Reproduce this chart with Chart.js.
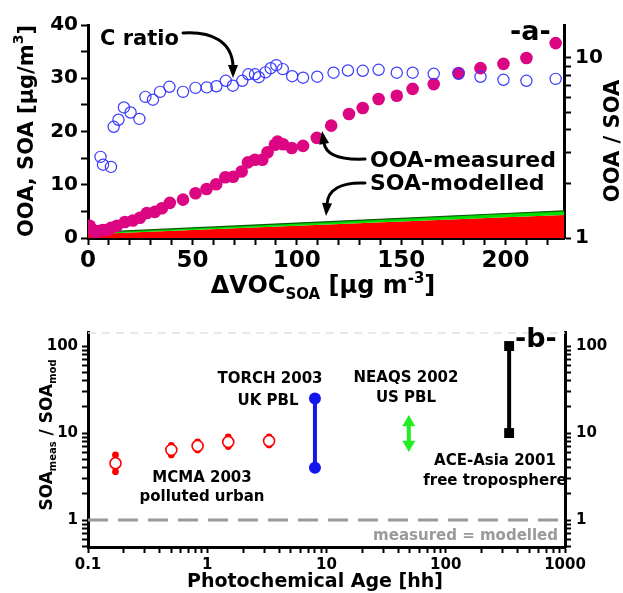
<!DOCTYPE html>
<html><head><meta charset="utf-8">
<script src="https://cdn.jsdelivr.net/npm/chart.js@4.4.1/dist/chart.umd.min.js"></script>
<style>
html,body{margin:0;padding:0;background:#fff;width:623px;height:593px;overflow:hidden}
#wrapA{position:absolute;left:0;top:0;width:623px;height:300px}
#wrapB{position:absolute;left:0;top:300px;width:623px;height:293px}
canvas{display:block}
</style></head><body>
<div id="wrapA"><canvas id="cA" width="623" height="300"></canvas></div>
<div id="wrapB"><canvas id="cB" width="623" height="293"></canvas></div>
<script>
// ---------- Panel a data ----------
const ooaX = [0.8, 2.0, 3.5, 5.0, 7.0, 9.0, 11.0, 13.9, 17.7, 21.5, 24.9, 28.2, 32.0, 35.4, 39.2, 45.5, 51.5, 56.8, 61.4, 65.8, 69.5, 73.6, 76.6, 80.0, 83.5, 86.0, 89.5, 90.8, 93.4, 97.6, 103.0, 109.6, 116.5, 125.0, 131.6, 139.2, 147.9, 155.5, 165.6, 177.5, 188.0, 199.0, 210.0, 224.0];
const ooaY = [2.3, 1.6, 1.1, 1.3, 1.5, 1.5, 1.9, 2.3, 3.0, 3.3, 3.8, 4.7, 4.9, 5.6, 6.6, 7.2, 8.4, 9.2, 10.1, 11.4, 11.5, 12.5, 14.2, 14.7, 14.7, 16.1, 17.5, 18.1, 17.6, 16.9, 17.3, 18.8, 21.1, 23.3, 24.4, 26.1, 26.7, 28.0, 28.9, 31.0, 31.9, 32.7, 33.8, 36.6];
const cRatioX = [6.0, 7.2, 11.0, 12.3, 14.6, 17.2, 20.4, 24.6, 27.5, 31.1, 34.5, 39.0, 45.5, 51.5, 56.9, 61.5, 66.0, 69.4, 73.9, 76.8, 80.0, 81.8, 85.0, 87.5, 90.2, 93.3, 97.8, 103.0, 109.8, 117.6, 124.5, 131.6, 139.2, 147.9, 155.5, 165.6, 177.5, 188.0, 199.0, 210.0, 224.0];
const cRatioY = [2.82, 2.55, 2.48, 4.14, 4.53, 5.3, 4.97, 4.58, 6.07, 5.85, 6.47, 6.9, 6.47, 6.81, 6.85, 6.95, 7.45, 7.0, 7.45, 8.1, 8.1, 7.8, 8.3, 8.75, 9.1, 8.65, 7.9, 7.75, 7.85, 8.26, 8.5, 8.47, 8.58, 8.26, 8.26, 8.15, 8.15, 7.84, 7.55, 7.45, 7.64];
const soaX = [0, 50, 100, 150, 200, 228];
const soaRed = [0.7, 1.5, 2.3, 3.1, 3.9, 4.3];
const soaGreen = [1.0, 1.9, 2.8, 3.7, 4.6, 5.1];
const aXLabels = [0, 50, 100, 150, 200];
const aYLabels = [0, 10, 20, 30, 40];
const aRLabels = [1, 10];
const aRTicks = [1, 2, 3, 4, 5, 6, 7, 8, 9, 10];

// ---------- Panel b data ----------
const mcmaX = [0.17, 0.5, 0.83, 1.5, 3.3];
const mcmaY = [4.5, 6.4, 7.1, 7.9, 8.1];
const mcmaLo = [3.6, 5.6, 6.4, 7.0, 7.3];
const mcmaHi = [5.6, 7.2, 7.9, 9.0, 9.0];
const torchX = [8, 8];
const torchY = [4, 25];
const neaqsX = [49, 49];
const neaqsY = [7.4, 13.2];
const aceX = [340, 340];
const aceY = [10, 100];
const oneToOneX = [0.1, 1000];
const oneToOneY = [1, 1];
const bXLabels = [0.1, 1, 10, 100, 1000];
const bYLabels = [1, 10, 100];
const bXTicks = [0.1,0.2,0.3,0.4,0.5,0.6,0.7,0.8,0.9,1,2,3,4,5,6,7,8,9,10,20,30,40,50,60,70,80,90,100,200,300,400,500,600,700,800,900,1000];
const bYTicks = [0.5,0.6,0.7,0.8,0.9,1,2,3,4,5,6,7,8,9,10,20,30,40,50,60,70,80,90,100];

const FAM = '"DejaVu Sans", "Liberation Sans", sans-serif';
Chart.defaults.font.family = FAM;
Chart.defaults.font.weight = 'bold';
Chart.defaults.color = '#000';

const pts = (xs, ys) => xs.map((x, i) => ({x, y: ys[i]}));
const setTicks = vals => scale => { scale.ticks = vals.map(v => ({value: v})); };
const labelIf = list => v => (list.some(l => Math.abs(l - v) < 1e-9) ? String(v) : '');

function rich(ctx, parts, x, y, rot, align, color) {
  ctx.save();
  ctx.translate(x, y); ctx.rotate(rot || 0);
  ctx.textAlign = 'left'; ctx.textBaseline = 'alphabetic';
  ctx.fillStyle = color || '#000';
  let w = 0;
  parts.forEach(p => { ctx.font = 'bold ' + p.s + 'px ' + FAM; p.w = ctx.measureText(p.t).width; w += p.w; });
  let cx = align === 'center' ? -w / 2 : (align === 'right' ? -w : 0);
  parts.forEach(p => { ctx.font = 'bold ' + p.s + 'px ' + FAM; ctx.fillText(p.t, cx, p.dy || 0); cx += p.w; });
  ctx.restore();
}
function txt(ctx, t, x, y, s, align, color) { rich(ctx, [{t, s}], x, y, 0, align || 'left', color); }
function curveArrow(ctx, c, tip) {
  ctx.save();
  ctx.strokeStyle = '#000'; ctx.fillStyle = '#000'; ctx.lineWidth = 3; ctx.lineCap = 'round';
  ctx.beginPath(); ctx.moveTo(c[0], c[1]); ctx.bezierCurveTo(c[2], c[3], c[4], c[5], c[6], c[7]); ctx.stroke();
  const dx = tip[0] - c[6], dy = tip[1] - c[7], L = Math.hypot(dx, dy);
  const ux = dx / L, uy = dy / L, hw = 5;
  const bx = tip[0] - ux * 13, by = tip[1] - uy * 13;
  ctx.beginPath(); ctx.moveTo(tip[0], tip[1]);
  ctx.lineTo(bx - uy * hw, by + ux * hw); ctx.lineTo(bx + uy * hw, by - ux * hw); ctx.closePath(); ctx.fill();
  ctx.restore();
}

const annA = {
  id: 'annA',
  afterDraw(chart) {
    const ctx = chart.ctx;
    txt(ctx, 'C ratio', 100, 45, 21);
    curveArrow(ctx, [183, 33, 212, 31, 232, 42, 233, 66], [233, 78]);
    txt(ctx, 'OOA-measured', 370, 167, 22);
    curveArrow(ctx, [365, 159, 342, 160, 326, 156, 324, 143], [322, 131]);
    txt(ctx, 'SOA-modelled', 370, 190, 22);
    curveArrow(ctx, [365, 183, 342, 182, 328, 189, 327, 204], [326, 216]);
    txt(ctx, '-a-', 510, 40, 27);
    // axis titles
    rich(ctx, [{t: 'OOA, SOA [\u00b5g/m', s: 21}, {t: '3', s: 14, dy: -10}, {t: ']', s: 21}], 33, 131, -Math.PI / 2, 'center');
    rich(ctx, [{t: '\u0394VOC', s: 24}, {t: 'SOA', s: 15, dy: 6}, {t: ' [\u00b5g m', s: 24}, {t: '-3', s: 15, dy: -10}, {t: ']', s: 24}], 323, 293, 0, 'center');
    rich(ctx, [{t: 'OOA / SOA', s: 21}], 619, 141, -Math.PI / 2, 'center');
  }
};

const chartA = new Chart(document.getElementById('cA'), {
  type: 'scatter',
  data: {
    datasets: [
      {type: 'line', label: 'SOA red', data: pts(soaX, soaRed), fill: 'origin', backgroundColor: '#ff0000', borderColor: '#ff0000', borderWidth: 0, pointRadius: 0, order: 4, xAxisID: 'x', yAxisID: 'y'},
      {type: 'line', label: 'SOA-modelled', data: pts(soaX, soaGreen), fill: '-1', backgroundColor: '#00dd00', borderColor: '#0a5a0a', borderWidth: 1.2, pointRadius: 0, order: 3, xAxisID: 'x', yAxisID: 'y'},
      {label: 'OOA-measured', data: pts(ooaX, ooaY), pointRadius: 6.3, backgroundColor: '#dc0582', borderWidth: 0, order: 2, xAxisID: 'x', yAxisID: 'y'},
      {label: 'C ratio', data: pts(cRatioX, cRatioY), pointRadius: 5.6, backgroundColor: 'rgba(0,0,0,0)', borderColor: '#3a3aff', borderWidth: 1.2, order: 1, xAxisID: 'x', yAxisID: 'y2'}
    ]
  },
  options: {
    responsive: false, animation: false, devicePixelRatio: 1,
    layout: {padding: {top: 25, left: 0, right: 0, bottom: 0}},
    plugins: {legend: {display: false}, tooltip: {enabled: false}},
    elements: {line: {tension: 0}},
    scales: {
      x: {type: 'linear', position: 'bottom', min: 0, max: 228,
        ticks: {stepSize: 10, includeBounds: false, autoSkip: false, maxRotation: 0, padding: 2, font: {size: 23, weight: 'bold'}, color: '#000', callback: labelIf(aXLabels)},
        grid: {drawOnChartArea: false, drawTicks: true, tickLength: 7, tickWidth: 2, tickColor: '#000'},
        border: {display: true, color: '#000', width: 3},
        afterFit: s => { s.height = 62; }},
      y: {type: 'linear', position: 'left', min: 0, max: 40,
        ticks: {stepSize: 5, includeBounds: false, autoSkip: false, padding: 3, font: {size: 20, weight: 'bold'}, color: '#000', callback: labelIf(aYLabels)},
        grid: {drawOnChartArea: false, drawTicks: true, tickLength: 7, tickWidth: 2, tickColor: '#000'},
        border: {display: true, color: '#000', width: 3},
        afterFit: s => { s.width = 88; }},
      y2: {type: 'logarithmic', position: 'right', min: 1, max: 15.2,
        afterBuildTicks: setTicks(aRTicks),
        ticks: {autoSkip: false, padding: 4, font: {size: 20, weight: 'bold'}, color: '#000', callback: labelIf(aRLabels)},
        grid: {drawOnChartArea: false, drawTicks: true, tickLength: 7, tickWidth: 2, tickColor: '#000'},
        border: {display: true, color: '#000', width: 3},
        afterFit: s => { s.width = 59; }}
    }
  },
  plugins: [annA]
});

// ---------- Panel b ----------
const annB = {
  id: 'annB',
  beforeDatasetsDraw(chart) {
    const ctx = chart.ctx, a = chart.chartArea;
    ctx.save(); ctx.strokeStyle = '#e2e2e2'; ctx.lineWidth = 1.5; ctx.setLineDash([8, 6]);
    ctx.beginPath(); ctx.moveTo(a.left, a.top + 1); ctx.lineTo(a.right, a.top + 1); ctx.stroke(); ctx.restore();
  },
  afterDraw(chart) {
    const ctx = chart.ctx;
    txt(ctx, 'TORCH 2003', 270, 83, 15, 'center');
    txt(ctx, 'UK PBL', 268, 105, 15, 'center');
    txt(ctx, 'NEAQS 2002', 406, 82, 15, 'center');
    txt(ctx, 'US PBL', 406, 102, 15, 'center');
    txt(ctx, 'MCMA 2003', 202, 182, 15, 'center');
    txt(ctx, 'polluted urban', 202, 201, 15, 'center');
    txt(ctx, 'ACE-Asia 2001', 495, 165, 15, 'center');
    txt(ctx, 'free troposphere', 495, 185, 15, 'center');
    txt(ctx, 'measured = modelled', 558, 240, 15, 'right', '#9a9a9a');
    txt(ctx, '-b-', 515, 47, 27);
    rich(ctx, [{t: 'SOA', s: 17}, {t: 'meas', s: 10, dy: 4}, {t: ' / SOA', s: 17}, {t: 'mod', s: 10, dy: 4}], 52, 135, -Math.PI / 2, 'center');
    rich(ctx, [{t: 'Photochemical Age [hh]', s: 19}], 315, 287, 0, 'center');
  }
};

const bDatasets = [
  {type: 'line', label: 'measured = modelled', data: pts(oneToOneX, oneToOneY), borderColor: '#999999', borderWidth: 3, borderDash: [20, 10], pointRadius: 0, order: 9}
];
mcmaX.forEach((x, i) => {
  bDatasets.push({type: 'line', label: 'MCMA err', data: [{x, y: mcmaLo[i]}, {x, y: mcmaHi[i]}], borderColor: '#ff0000', borderWidth: 3, pointRadius: 3.4, backgroundColor: '#ff0000', pointBorderWidth: 0, order: 5});
});
bDatasets.push({label: 'MCMA 2003', data: pts(mcmaX, mcmaY), pointRadius: 5.5, backgroundColor: '#ffffff', borderColor: '#ff0000', borderWidth: 1.6, order: 1});
bDatasets.push({type: 'line', label: 'TORCH 2003', data: pts(torchX, torchY), borderColor: '#1515ee', borderWidth: 4, pointRadius: 6, backgroundColor: '#1515ee', pointBorderWidth: 0, order: 2});
bDatasets.push({type: 'line', label: 'NEAQS 2002', data: pts(neaqsX, neaqsY), borderColor: '#22ee22', borderWidth: 4, pointStyle: 'triangle', pointRotation: [180, 0], pointRadius: 7.5, backgroundColor: '#22ee22', pointBorderWidth: 0, order: 2});
bDatasets.push({type: 'line', label: 'ACE-Asia 2001', data: pts(aceX, aceY), borderColor: '#000000', borderWidth: 4, pointStyle: 'rect', pointRadius: 7, backgroundColor: '#000000', pointBorderWidth: 0, order: 2});

const logAxisB = (pos, width, pad) => ({
  type: 'logarithmic', position: pos, min: 0.49, max: 145,
  afterBuildTicks: setTicks(bYTicks),
  ticks: {autoSkip: false, padding: pad, font: {size: 15, weight: 'bold'}, color: '#000', callback: labelIf(bYLabels)},
  grid: {drawOnChartArea: false, drawTicks: true, tickLength: 6, tickWidth: 2, tickColor: '#000'},
  border: {display: true, color: '#000', width: 3},
  afterFit: s => { s.width = width; }
});

const chartB = new Chart(document.getElementById('cB'), {
  type: 'scatter',
  data: {datasets: bDatasets},
  options: {
    responsive: false, animation: false, devicePixelRatio: 1,
    layout: {padding: {top: 32, left: 0, right: 0, bottom: 0}},
    plugins: {legend: {display: false}, tooltip: {enabled: false}},
    elements: {line: {tension: 0}},
    scales: {
      x: {type: 'logarithmic', position: 'bottom', min: 0.1, max: 1000,
        afterBuildTicks: setTicks(bXTicks),
        ticks: {autoSkip: false, maxRotation: 0, padding: 3, font: {size: 15, weight: 'bold'}, color: '#000', callback: labelIf(bXLabels)},
        grid: {drawOnChartArea: false, drawTicks: true, tickLength: 6, tickWidth: 2, tickColor: '#000'},
        border: {display: true, color: '#000', width: 3},
        afterFit: s => { s.height = 46; }},
      y: logAxisB('left', 88, 4),
      y2: logAxisB('right', 58, 5)
    }
  },
  plugins: [annB]
});
</script>
</body></html>
